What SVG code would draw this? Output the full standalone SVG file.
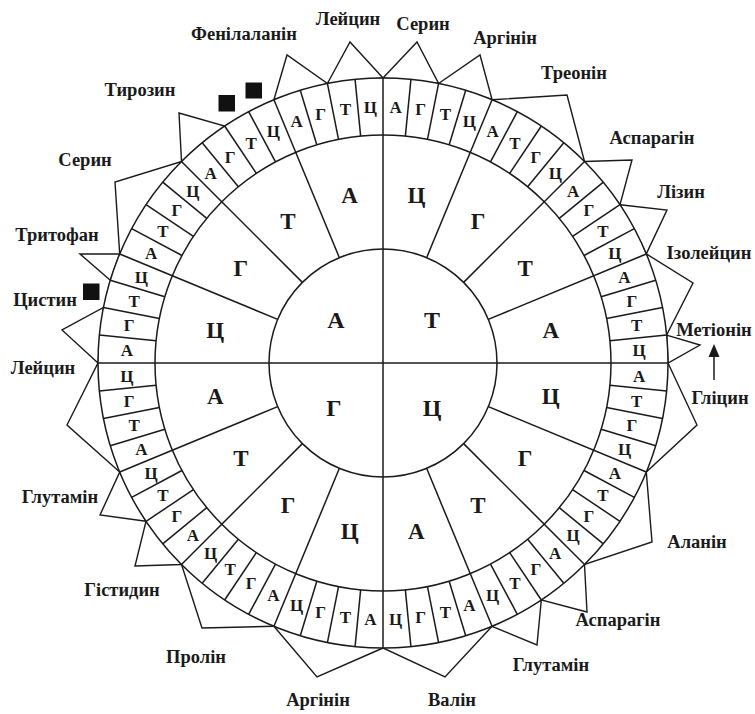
<svg xmlns="http://www.w3.org/2000/svg" xmlns:xlink="http://www.w3.org/1999/xlink" width="755" height="714" viewBox="0 0 755 714">
<style>
.ln{stroke:#1a1a1a;stroke-width:1.5;fill:none}
.sp{stroke:#1a1a1a;stroke-width:1.4;fill:#fff;stroke-linejoin:miter}
.lb{font-family:"Liberation Serif","Times New Roman",serif;font-size:18.5px;font-weight:bold;fill:#1a1a1a;text-anchor:middle}
.cd{font-family:"Liberation Serif","Times New Roman",serif;font-size:17px;font-weight:bold;fill:#1a1a1a;text-anchor:middle}
.md{font-family:"Liberation Serif","Times New Roman",serif;font-size:23px;font-weight:bold;fill:#1a1a1a;text-anchor:middle}
.in{font-family:"Liberation Serif","Times New Roman",serif;font-size:24px;font-weight:bold;fill:#1a1a1a;text-anchor:middle}
.sq{fill:#111}
</style>
<defs>
<line id="tick" x1="383" y1="135" x2="383" y2="78" class="ln"/>
<line id="sect" x1="383" y1="249" x2="383" y2="78" class="ln"/>
</defs>
<rect width="755" height="714" fill="#fff"/>

<g id="spikes">
<g id="leu-top"><polygon class="sp" points="327.4,83.5 350,42 383,78"/><text class="lb" x="348" y="25">Лейцин</text></g>
<g id="ser-top"><polygon class="sp" points="383,78 417,42 438.6,83.5"/><text class="lb" x="423" y="30">Серин</text></g>
<g id="arg-top"><polygon class="sp" points="438.6,83.5 480,55 492.1,99.7"/><text class="lb" x="505" y="44">Аргінін</text></g>
<g id="thr"><polygon class="sp" points="492.1,99.7 567,95 584.5,161.5"/><text class="lb" x="574" y="79">Треонін</text></g>
<g id="asn"><polygon class="sp" points="584.5,161.5 632,160 620,204.7"/><text class="lb" x="652" y="144">Аспарагін</text></g>
<g id="lys"><polygon class="sp" points="620,204.7 667,210 646.3,253.9"/><text class="lb" x="681" y="198">Лізин</text></g>
<g id="ile"><polygon class="sp" points="646.3,253.9 693,283 666.6,335.1"/><text class="lb" x="709" y="259">Ізолейцин</text></g>
<g id="met"><polygon class="sp" points="666.6,335.1 700,345 668,363"/><text class="lb" x="714" y="336">Метіонін</text></g>
<g id="gly"><polygon class="sp" points="668,363 697,425 646.3,472.1"/><text class="lb" x="720" y="404">Гліцин</text></g>
<g id="ala"><polygon class="sp" points="646.3,472.1 652,542 584.5,564.5"/><text class="lb" x="697" y="548">Аланін</text></g>
<g id="asp"><polygon class="sp" points="584.5,564.5 587,612 541.3,600"/><text class="lb" x="618" y="626">Аспарагін</text></g>
<g id="glu"><polygon class="sp" points="541.3,600 537,645 492.1,626.3"/><text class="lb" x="551" y="671">Глутамін</text></g>
<g id="val"><polygon class="sp" points="492.1,626.3 445,677 383,648"/><text class="lb" x="452" y="706">Валін</text></g>
<g id="arg-bot"><polygon class="sp" points="383,648 317,677 273.9,626.3"/><text class="lb" x="318" y="706">Аргінін</text></g>
<g id="pro"><polygon class="sp" points="273.9,626.3 202,628 181.5,564.5"/><text class="lb" x="196" y="663">Пролін</text></g>
<g id="his"><polygon class="sp" points="181.5,564.5 135,566 146,521.3"/><text class="lb" x="122" y="596">Гістидин</text></g>
<g id="gln"><polygon class="sp" points="146,521.3 100,515 119.7,472.1"/><text class="lb" x="60" y="503">Глутамін</text></g>
<g id="leu-left"><polygon class="sp" points="119.7,472.1 67,425 98,363"/><text class="lb" x="43" y="374">Лейцин</text></g>
<g id="cys"><polygon class="sp" points="98,363 62,330 103.5,307.4"/><text class="lb" x="45" y="306">Цистин</text></g>
<g id="trp"><polygon class="sp" points="110.3,280.3 80,254 119.7,253.9"/><text class="lb" x="57" y="241">Тритофан</text></g>
<g id="ser-left"><polygon class="sp" points="119.7,253.9 115,182 181.5,161.5"/><text class="lb" x="85" y="166">Серин</text></g>
<g id="tyr"><polygon class="sp" points="181.5,161.5 179,113 224.7,126"/><text class="lb" x="140" y="96">Тирозин</text></g>
<g id="phe"><polygon class="sp" points="273.9,99.7 287,55 327.4,83.5"/><text class="lb" x="244" y="40">Фенілаланін</text></g>
<g id="stops"><rect class="sq" x="218.5" y="95" width="16.5" height="16.5"/><rect class="sq" x="245.5" y="82.5" width="16.5" height="16"/><rect class="sq" x="83" y="283.5" width="16.5" height="16.5"/></g>
</g>

<g id="wheel">
<circle class="ln" cx="383" cy="363" r="285" style="fill:#fff"/>
<circle class="ln" cx="383" cy="363" r="228"/>
<circle class="ln" cx="383" cy="363" r="114"/>
<line class="ln" x1="98" y1="363" x2="668" y2="363"/>
<line class="ln" x1="383" y1="78" x2="383" y2="648"/>
<g id="sectors">
<use xlink:href="#sect" transform="rotate(22.5 383 363)"/><use xlink:href="#sect" transform="rotate(45 383 363)"/><use xlink:href="#sect" transform="rotate(67.5 383 363)"/>
<use xlink:href="#sect" transform="rotate(112.5 383 363)"/><use xlink:href="#sect" transform="rotate(135 383 363)"/><use xlink:href="#sect" transform="rotate(157.5 383 363)"/>
<use xlink:href="#sect" transform="rotate(202.5 383 363)"/><use xlink:href="#sect" transform="rotate(225 383 363)"/><use xlink:href="#sect" transform="rotate(247.5 383 363)"/>
<use xlink:href="#sect" transform="rotate(292.5 383 363)"/><use xlink:href="#sect" transform="rotate(315 383 363)"/><use xlink:href="#sect" transform="rotate(337.5 383 363)"/>
</g>
<g id="ticks">
<use xlink:href="#tick" transform="rotate(5.625 383 363)"/><use xlink:href="#tick" transform="rotate(11.25 383 363)"/><use xlink:href="#tick" transform="rotate(16.875 383 363)"/>
<use xlink:href="#tick" transform="rotate(28.125 383 363)"/><use xlink:href="#tick" transform="rotate(33.75 383 363)"/><use xlink:href="#tick" transform="rotate(39.375 383 363)"/>
<use xlink:href="#tick" transform="rotate(50.625 383 363)"/><use xlink:href="#tick" transform="rotate(56.25 383 363)"/><use xlink:href="#tick" transform="rotate(61.875 383 363)"/>
<use xlink:href="#tick" transform="rotate(73.125 383 363)"/><use xlink:href="#tick" transform="rotate(78.75 383 363)"/><use xlink:href="#tick" transform="rotate(84.375 383 363)"/>
<use xlink:href="#tick" transform="rotate(95.625 383 363)"/><use xlink:href="#tick" transform="rotate(101.25 383 363)"/><use xlink:href="#tick" transform="rotate(106.875 383 363)"/>
<use xlink:href="#tick" transform="rotate(118.125 383 363)"/><use xlink:href="#tick" transform="rotate(123.75 383 363)"/><use xlink:href="#tick" transform="rotate(129.375 383 363)"/>
<use xlink:href="#tick" transform="rotate(140.625 383 363)"/><use xlink:href="#tick" transform="rotate(146.25 383 363)"/><use xlink:href="#tick" transform="rotate(151.875 383 363)"/>
<use xlink:href="#tick" transform="rotate(163.125 383 363)"/><use xlink:href="#tick" transform="rotate(168.75 383 363)"/><use xlink:href="#tick" transform="rotate(174.375 383 363)"/>
<use xlink:href="#tick" transform="rotate(185.625 383 363)"/><use xlink:href="#tick" transform="rotate(191.25 383 363)"/><use xlink:href="#tick" transform="rotate(196.875 383 363)"/>
<use xlink:href="#tick" transform="rotate(208.125 383 363)"/><use xlink:href="#tick" transform="rotate(213.75 383 363)"/><use xlink:href="#tick" transform="rotate(219.375 383 363)"/>
<use xlink:href="#tick" transform="rotate(230.625 383 363)"/><use xlink:href="#tick" transform="rotate(236.25 383 363)"/><use xlink:href="#tick" transform="rotate(241.875 383 363)"/>
<use xlink:href="#tick" transform="rotate(253.125 383 363)"/><use xlink:href="#tick" transform="rotate(258.75 383 363)"/><use xlink:href="#tick" transform="rotate(264.375 383 363)"/>
<use xlink:href="#tick" transform="rotate(275.625 383 363)"/><use xlink:href="#tick" transform="rotate(281.25 383 363)"/><use xlink:href="#tick" transform="rotate(286.875 383 363)"/>
<use xlink:href="#tick" transform="rotate(298.125 383 363)"/><use xlink:href="#tick" transform="rotate(303.75 383 363)"/><use xlink:href="#tick" transform="rotate(309.375 383 363)"/>
<use xlink:href="#tick" transform="rotate(320.625 383 363)"/><use xlink:href="#tick" transform="rotate(326.25 383 363)"/><use xlink:href="#tick" transform="rotate(331.875 383 363)"/>
<use xlink:href="#tick" transform="rotate(343.125 383 363)"/><use xlink:href="#tick" transform="rotate(348.75 383 363)"/><use xlink:href="#tick" transform="rotate(354.375 383 363)"/>
</g>
<g id="inner-letters">
<text class="in" x="336" y="328">А</text><text class="in" x="432" y="328">Т</text>
<text class="in" x="334" y="416">Г</text><text class="in" x="432" y="416">Ц</text>
</g>
<g id="middle-letters">
<text class="md" transform="rotate(11.25 383 363) rotate(-11.25 383 192)" x="383" y="200">Ц</text>
<text class="md" transform="rotate(33.75 383 363) rotate(-33.75 383 192)" x="383" y="200">Г</text>
<text class="md" transform="rotate(56.25 383 363) rotate(-56.25 383 192)" x="383" y="200">Т</text>
<text class="md" transform="rotate(78.75 383 363) rotate(-78.75 383 192)" x="383" y="200">А</text>
<text class="md" transform="rotate(101.25 383 363) rotate(-101.25 383 192)" x="383" y="200">Ц</text>
<text class="md" transform="rotate(123.75 383 363) rotate(-123.75 383 192)" x="383" y="200">Г</text>
<text class="md" transform="rotate(146.25 383 363) rotate(-146.25 383 192)" x="383" y="200">Т</text>
<text class="md" transform="rotate(168.75 383 363) rotate(-168.75 383 192)" x="383" y="200">А</text>
<text class="md" transform="rotate(191.25 383 363) rotate(-191.25 383 192)" x="383" y="200">Ц</text>
<text class="md" transform="rotate(213.75 383 363) rotate(-213.75 383 192)" x="383" y="200">Г</text>
<text class="md" transform="rotate(236.25 383 363) rotate(-236.25 383 192)" x="383" y="200">Т</text>
<text class="md" transform="rotate(258.75 383 363) rotate(-258.75 383 192)" x="383" y="200">А</text>
<text class="md" transform="rotate(281.25 383 363) rotate(-281.25 383 192)" x="383" y="200">Ц</text>
<text class="md" transform="rotate(303.75 383 363) rotate(-303.75 383 192)" x="383" y="200">Г</text>
<text class="md" transform="rotate(326.25 383 363) rotate(-326.25 383 192)" x="383" y="200">Т</text>
<text class="md" transform="rotate(348.75 383 363) rotate(-348.75 383 192)" x="383" y="200">А</text>
</g>
<g id="codon-letters">
<text class="cd" transform="rotate(2.8125 383 363) rotate(-2.8125 383 106.5)" x="383" y="112.5">А</text>
<text class="cd" transform="rotate(8.4375 383 363) rotate(-8.4375 383 106.5)" x="383" y="112.5">Г</text>
<text class="cd" transform="rotate(14.0625 383 363) rotate(-14.0625 383 106.5)" x="383" y="112.5">Т</text>
<text class="cd" transform="rotate(19.6875 383 363) rotate(-19.6875 383 106.5)" x="383" y="112.5">Ц</text>
<text class="cd" transform="rotate(25.3125 383 363) rotate(-25.3125 383 106.5)" x="383" y="112.5">А</text>
<text class="cd" transform="rotate(30.9375 383 363) rotate(-30.9375 383 106.5)" x="383" y="112.5">Т</text>
<text class="cd" transform="rotate(36.5625 383 363) rotate(-36.5625 383 106.5)" x="383" y="112.5">Г</text>
<text class="cd" transform="rotate(42.1875 383 363) rotate(-42.1875 383 106.5)" x="383" y="112.5">Ц</text>
<text class="cd" transform="rotate(47.8125 383 363) rotate(-47.8125 383 106.5)" x="383" y="112.5">А</text>
<text class="cd" transform="rotate(53.4375 383 363) rotate(-53.4375 383 106.5)" x="383" y="112.5">Г</text>
<text class="cd" transform="rotate(59.0625 383 363) rotate(-59.0625 383 106.5)" x="383" y="112.5">Т</text>
<text class="cd" transform="rotate(64.6875 383 363) rotate(-64.6875 383 106.5)" x="383" y="112.5">Ц</text>
<text class="cd" transform="rotate(70.3125 383 363) rotate(-70.3125 383 106.5)" x="383" y="112.5">А</text>
<text class="cd" transform="rotate(75.9375 383 363) rotate(-75.9375 383 106.5)" x="383" y="112.5">Г</text>
<text class="cd" transform="rotate(81.5625 383 363) rotate(-81.5625 383 106.5)" x="383" y="112.5">Т</text>
<text class="cd" transform="rotate(87.1875 383 363) rotate(-87.1875 383 106.5)" x="383" y="112.5">Ц</text>
<text class="cd" transform="rotate(92.8125 383 363) rotate(-92.8125 383 106.5)" x="383" y="112.5">А</text>
<text class="cd" transform="rotate(98.4375 383 363) rotate(-98.4375 383 106.5)" x="383" y="112.5">Т</text>
<text class="cd" transform="rotate(104.0625 383 363) rotate(-104.0625 383 106.5)" x="383" y="112.5">Г</text>
<text class="cd" transform="rotate(109.6875 383 363) rotate(-109.6875 383 106.5)" x="383" y="112.5">Ц</text>
<text class="cd" transform="rotate(115.3125 383 363) rotate(-115.3125 383 106.5)" x="383" y="112.5">А</text>
<text class="cd" transform="rotate(120.9375 383 363) rotate(-120.9375 383 106.5)" x="383" y="112.5">Т</text>
<text class="cd" transform="rotate(126.5625 383 363) rotate(-126.5625 383 106.5)" x="383" y="112.5">Г</text>
<text class="cd" transform="rotate(132.1875 383 363) rotate(-132.1875 383 106.5)" x="383" y="112.5">Ц</text>
<text class="cd" transform="rotate(137.8125 383 363) rotate(-137.8125 383 106.5)" x="383" y="112.5">А</text>
<text class="cd" transform="rotate(143.4375 383 363) rotate(-143.4375 383 106.5)" x="383" y="112.5">Г</text>
<text class="cd" transform="rotate(149.0625 383 363) rotate(-149.0625 383 106.5)" x="383" y="112.5">Т</text>
<text class="cd" transform="rotate(154.6875 383 363) rotate(-154.6875 383 106.5)" x="383" y="112.5">Ц</text>
<text class="cd" transform="rotate(160.3125 383 363) rotate(-160.3125 383 106.5)" x="383" y="112.5">А</text>
<text class="cd" transform="rotate(165.9375 383 363) rotate(-165.9375 383 106.5)" x="383" y="112.5">Т</text>
<text class="cd" transform="rotate(171.5625 383 363) rotate(-171.5625 383 106.5)" x="383" y="112.5">Г</text>
<text class="cd" transform="rotate(177.1875 383 363) rotate(-177.1875 383 106.5)" x="383" y="112.5">Ц</text>
<text class="cd" transform="rotate(182.8125 383 363) rotate(-182.8125 383 106.5)" x="383" y="112.5">А</text>
<text class="cd" transform="rotate(188.4375 383 363) rotate(-188.4375 383 106.5)" x="383" y="112.5">Т</text>
<text class="cd" transform="rotate(194.0625 383 363) rotate(-194.0625 383 106.5)" x="383" y="112.5">Г</text>
<text class="cd" transform="rotate(199.6875 383 363) rotate(-199.6875 383 106.5)" x="383" y="112.5">Ц</text>
<text class="cd" transform="rotate(205.3125 383 363) rotate(-205.3125 383 106.5)" x="383" y="112.5">А</text>
<text class="cd" transform="rotate(210.9375 383 363) rotate(-210.9375 383 106.5)" x="383" y="112.5">Г</text>
<text class="cd" transform="rotate(216.5625 383 363) rotate(-216.5625 383 106.5)" x="383" y="112.5">Т</text>
<text class="cd" transform="rotate(222.1875 383 363) rotate(-222.1875 383 106.5)" x="383" y="112.5">Ц</text>
<text class="cd" transform="rotate(227.8125 383 363) rotate(-227.8125 383 106.5)" x="383" y="112.5">А</text>
<text class="cd" transform="rotate(233.4375 383 363) rotate(-233.4375 383 106.5)" x="383" y="112.5">Г</text>
<text class="cd" transform="rotate(239.0625 383 363) rotate(-239.0625 383 106.5)" x="383" y="112.5">Т</text>
<text class="cd" transform="rotate(244.6875 383 363) rotate(-244.6875 383 106.5)" x="383" y="112.5">Ц</text>
<text class="cd" transform="rotate(250.3125 383 363) rotate(-250.3125 383 106.5)" x="383" y="112.5">А</text>
<text class="cd" transform="rotate(255.9375 383 363) rotate(-255.9375 383 106.5)" x="383" y="112.5">Т</text>
<text class="cd" transform="rotate(261.5625 383 363) rotate(-261.5625 383 106.5)" x="383" y="112.5">Г</text>
<text class="cd" transform="rotate(267.1875 383 363) rotate(-267.1875 383 106.5)" x="383" y="112.5">Ц</text>
<text class="cd" transform="rotate(272.8125 383 363) rotate(-272.8125 383 106.5)" x="383" y="112.5">А</text>
<text class="cd" transform="rotate(278.4375 383 363) rotate(-278.4375 383 106.5)" x="383" y="112.5">Г</text>
<text class="cd" transform="rotate(284.0625 383 363) rotate(-284.0625 383 106.5)" x="383" y="112.5">Т</text>
<text class="cd" transform="rotate(289.6875 383 363) rotate(-289.6875 383 106.5)" x="383" y="112.5">Ц</text>
<text class="cd" transform="rotate(295.3125 383 363) rotate(-295.3125 383 106.5)" x="383" y="112.5">А</text>
<text class="cd" transform="rotate(300.9375 383 363) rotate(-300.9375 383 106.5)" x="383" y="112.5">Т</text>
<text class="cd" transform="rotate(306.5625 383 363) rotate(-306.5625 383 106.5)" x="383" y="112.5">Г</text>
<text class="cd" transform="rotate(312.1875 383 363) rotate(-312.1875 383 106.5)" x="383" y="112.5">Ц</text>
<text class="cd" transform="rotate(317.8125 383 363) rotate(-317.8125 383 106.5)" x="383" y="112.5">А</text>
<text class="cd" transform="rotate(323.4375 383 363) rotate(-323.4375 383 106.5)" x="383" y="112.5">Г</text>
<text class="cd" transform="rotate(329.0625 383 363) rotate(-329.0625 383 106.5)" x="383" y="112.5">Т</text>
<text class="cd" transform="rotate(334.6875 383 363) rotate(-334.6875 383 106.5)" x="383" y="112.5">Ц</text>
<text class="cd" transform="rotate(340.3125 383 363) rotate(-340.3125 383 106.5)" x="383" y="112.5">А</text>
<text class="cd" transform="rotate(345.9375 383 363) rotate(-345.9375 383 106.5)" x="383" y="112.5">Г</text>
<text class="cd" transform="rotate(351.5625 383 363) rotate(-351.5625 383 106.5)" x="383" y="112.5">Т</text>
<text class="cd" transform="rotate(357.1875 383 363) rotate(-357.1875 383 106.5)" x="383" y="112.5">Ц</text>
</g>
</g>

<g id="connectors">
<line class="ln" x1="714" y1="380" x2="714" y2="355"/>
<polygon points="714,344 708.5,357 719.5,357" fill="#1a1a1a"/>
</g>
</svg>
